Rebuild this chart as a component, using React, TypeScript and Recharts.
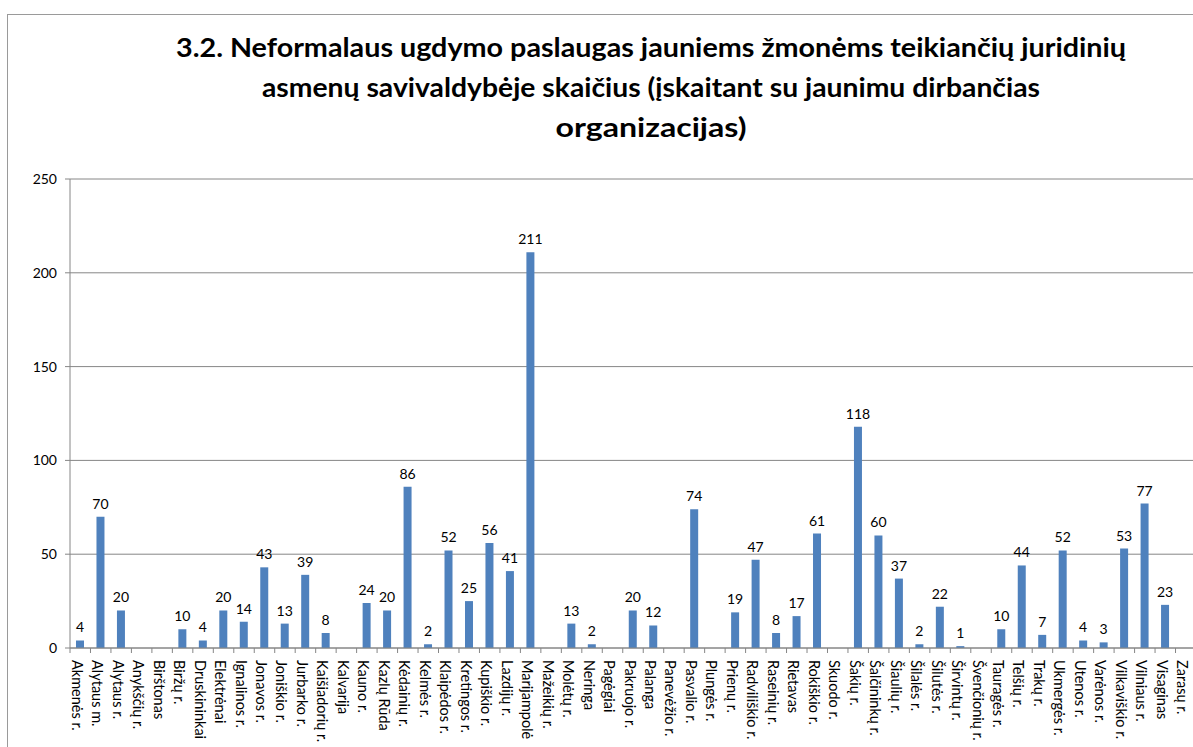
import React from "react";
import { BarChart, Bar, XAxis, YAxis, CartesianGrid, LabelList } from "recharts";

const categories = [
  "Akmenės r.", "Alytaus m.", "Alytaus r.", "Anykščių r.", "Birštonas", "Biržų r.",
  "Druskininkai", "Elektrėnai", "Ignalinos r.", "Jonavos r.", "Joniškio r.", "Jurbarko r.",
  "Kaišiadorių r.", "Kalvarija", "Kauno r.", "Kazlų Rūda", "Kėdainių r.", "Kelmės r.",
  "Klaipėdos r.", "Kretingos r.", "Kupiškio r.", "Lazdijų r.", "Marijampolė", "Mažeikių r.",
  "Molėtų r.", "Neringa", "Pagėgiai", "Pakruojo r.", "Palanga", "Panevėžio r.",
  "Pasvalio r.", "Plungės r.", "Prienų r.", "Radviliškio r.", "Raseinių r.", "Rietavas",
  "Rokiškio r.", "Skuodo r.", "Šakių r.", "Šalčininkų r.", "Šiaulių r.", "Šilalės r.",
  "Šilutės r.", "Širvintų r.", "Švenčionių r.", "Tauragės r.", "Telšių r.", "Trakų r.",
  "Ukmergės r.", "Utenos r.", "Varėnos r.", "Vilkaviškio r.", "Vilniaus r.", "Visaginas",
  "Zarasų r.",
];

// null = no value shown in the source
const values: (number | null)[] = [
  4, 70, 20, null, null, 10,
  4, 20, 14, 43, 13, 39,
  8, null, 24, 20, 86, 2,
  52, 25, 56, 41, 211, 0,
  13, 2, null, 20, 12, null,
  74, null, 19, 47, 8, 17,
  61, null, 118, 60, 37, 2,
  22, 1, null, 10, 44, 7,
  52, 4, 3, 53, 77, 23,
  null,
];

const yTicks = [0, 50, 100, 150, 200, 250];

const titleLines = [
  "3.2. Neformalaus ugdymo paslaugas jauniems žmonėms teikiančių juridinių",
  "asmenų savivaldybėje skaičius (įskaitant su jaunimu dirbančias",
  "organizacijas)",
];
// rendered widths of the title lines in the source
const titleWidths = [950, 778, 191];

const data = categories.map((name, i) => ({ name, value: values[i] }));

const CHART_W = 1210;
const CHART_H = 820;
const PLOT_LEFT = 70;
const PLOT_RIGHT = 1196;
const BW = (PLOT_RIGHT - PLOT_LEFT) / categories.length;
const FONT = "Lato, 'Open Sans', sans-serif";

function CategoryTick(props: any) {
  const { x, y, payload } = props;
  const left = x - BW / 2;
  return (
    <g>
      <line x1={left} y1={y - 8} x2={left} y2={y - 3} stroke="#868686" />
      <text
        transform={`translate(${x - 3},${y + 4}) rotate(90)`}
        textAnchor="start"
        dominantBaseline="central"
        fontSize={14.5}
        fontFamily={FONT}
        fill="#000"
      >
        {payload.value}
      </text>
    </g>
  );
}

export default function App() {
  return (
    <div
      style={{
        position: "absolute",
        left: 0,
        top: 0,
        width: 1193,
        height: 747,
        overflow: "hidden",
        background: "#fff",
      }}
    >
      <div
        style={{
          position: "absolute",
          left: 7,
          top: 14,
          width: 1400,
          height: 1000,
          border: "1px solid #9a9a9a",
        }}
      />
      <svg
        width={1193}
        height={150}
        style={{ position: "absolute", left: 0, top: 0 }}
      >
        {titleLines.map((t, i) => (
          <text
            key={i}
            x={651}
            y={57 + i * 40}
            textAnchor="middle"
            textLength={titleWidths[i]}
            lengthAdjust="spacingAndGlyphs"
            fontFamily={FONT}
            fontWeight="bold"
            fontSize={27}
            fill="#000"
          >
            {t}
          </text>
        ))}
      </svg>
      <div style={{ position: "absolute", left: 0, top: 0 }}>
        <BarChart
          width={CHART_W}
          height={CHART_H}
          data={data}
          margin={{ top: 179, right: CHART_W - PLOT_RIGHT, bottom: 10, left: 0 }}
          barSize={8}
        >
          <CartesianGrid vertical={false} stroke="#868686" />
          <XAxis
            dataKey="name"
            interval={0}
            height={CHART_H - 10 - 648}
            axisLine={{ stroke: "#868686" }}
            tickLine={false}
            tick={<CategoryTick />}
          />
          <YAxis
            width={PLOT_LEFT}
            domain={[0, 250]}
            ticks={yTicks}
            axisLine={{ stroke: "#868686" }}
            tickLine={{ stroke: "#868686" }}
            tickSize={5}
            tickMargin={8}
            tick={{ fontSize: 14, fontFamily: FONT, fill: "#000" }}
          />
          <Bar dataKey="value" fill="#4F81BD" isAnimationActive={false}>
            <LabelList
              dataKey="value"
              position="top"
              offset={8}
              fontSize={14}
              fontFamily={FONT}
              fill="#000"
              formatter={(v: any) => (v == null ? "" : v)}
            />
          </Bar>
        </BarChart>
      </div>
    </div>
  );
}
